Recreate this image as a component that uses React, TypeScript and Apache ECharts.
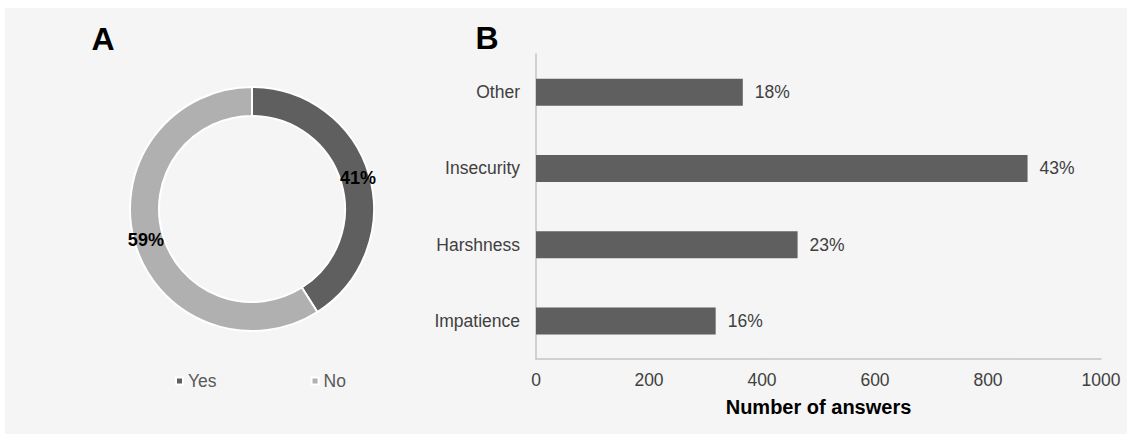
import React, { useEffect, useRef } from "react";
import * as echarts from "echarts";

// Panel A: share of respondents answering yes / no
const answerNames = ["Yes", "No"];
const answerShares = [41, 59];

// Panel B: reasons given, counted by number of answers (bottom to top)
const reasons = ["Impatience", "Harshness", "Insecurity", "Other"];
const reasonCounts = [318, 463, 870, 366];

// Horizontal axis
const xMin = 0;
const xMax = 1000;
const xStep = 200;

const FONT = '"Liberation Sans", Arial, Helvetica, sans-serif';
const DARK = "#5f5f5f";
const LIGHT = "#b0b0b0";
const TEXT = "#404040";

export default function App() {
  const ref = useRef<HTMLDivElement>(null);

  useEffect(() => {
    if (!ref.current) return;
    const chart = echarts.init(ref.current, undefined, { renderer: "svg" });
    const total = reasonCounts.reduce((a, b) => a + b, 0);

    chart.setOption({
      animation: false,
      backgroundColor: "#ffffff",
      textStyle: { fontFamily: FONT },
      graphic: [
        {
          type: "rect",
          z: -10,
          silent: true,
          shape: { x: 5, y: 8, width: 1122, height: 426 },
          style: { fill: "#f5f5f5" },
        },
        {
          type: "text",
          x: 103,
          y: 39,
          style: {
            text: "A",
            fill: "#000",
            font: `bold 32px ${FONT}`,
            textAlign: "center",
            textVerticalAlign: "middle",
          },
        },
        {
          type: "text",
          x: 487,
          y: 38,
          style: {
            text: "B",
            fill: "#000",
            font: `bold 32px ${FONT}`,
            textAlign: "center",
            textVerticalAlign: "middle",
          },
        },
      ],
      legend: {
        data: answerNames,
        left: 170,
        top: 367,
        icon: "rect",
        itemWidth: 7,
        itemHeight: 7,
        itemGap: 94,
        textStyle: { color: "#595959", fontSize: 17.5, fontFamily: FONT },
      },
      grid: { left: 536, right: 31, top: 54, bottom: 78 },
      xAxis: {
        type: "value",
        min: xMin,
        max: xMax,
        interval: xStep,
        name: "Number of answers",
        nameLocation: "middle",
        nameGap: 38,
        nameTextStyle: { color: "#000", fontSize: 20, fontWeight: "bold", fontFamily: FONT },
        axisLine: { show: true, lineStyle: { color: "#c4c4c4", width: 1.5 } },
        axisTick: { show: false },
        splitLine: { show: false },
        axisLabel: {
          color: TEXT,
          fontSize: 17.5,
          margin: 12,
          fontFamily: FONT,
          formatter: (v: number) => String(v),
        },
      },
      yAxis: {
        type: "category",
        data: reasons,
        axisLine: { show: true, lineStyle: { color: "#c4c4c4", width: 1.5 } },
        axisTick: { show: false },
        splitLine: { show: false },
        axisLabel: { color: TEXT, fontSize: 17.5, margin: 16, fontFamily: FONT },
      },
      series: [
        {
          type: "pie",
          center: [252, 209],
          radius: [93, 122],
          startAngle: 90,
          clockwise: true,
          avoidLabelOverlap: false,
          data: answerNames.map((name, i) => ({
            name,
            value: answerShares[i],
            itemStyle: { color: i === 0 ? DARK : LIGHT },
          })),
          itemStyle: { borderColor: "#ffffff", borderWidth: 2 },
          label: {
            show: true,
            position: "inside",
            formatter: "{d}%",
            color: "#000",
            fontSize: 18,
            fontWeight: "bold",
            fontFamily: FONT,
          },
          labelLine: { show: false },
          emphasis: { disabled: true },
        },
        {
          type: "bar",
          data: reasonCounts,
          barWidth: 27,
          itemStyle: { color: DARK },
          label: {
            show: true,
            position: "right",
            distance: 12,
            color: TEXT,
            fontSize: 17.5,
            fontFamily: FONT,
            formatter: (p: any) => `${Math.round((p.value / total) * 100)}%`,
          },
          emphasis: { disabled: true },
        },
      ],
    });

    return () => chart.dispose();
  }, []);

  return (
    <div
      ref={ref}
      style={{ position: "fixed", left: 0, top: 0, width: 1132, height: 437 }}
    />
  );
}
